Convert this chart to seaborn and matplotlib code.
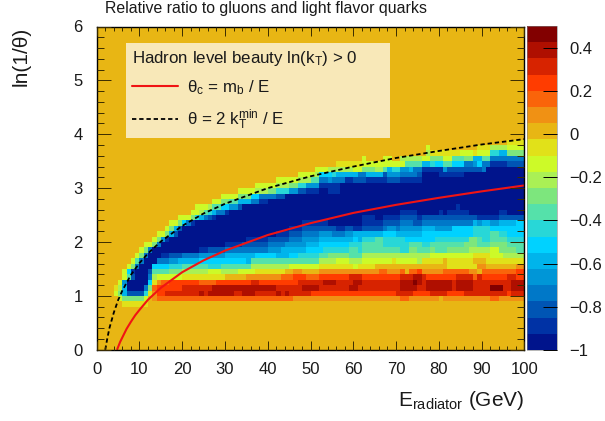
import numpy as np
import matplotlib
matplotlib.use("Agg")
import matplotlib.pyplot as plt
import seaborn as sns
from matplotlib.colors import ListedColormap
from matplotlib.lines import Line2D
from matplotlib.ticker import FixedLocator

# colour bands of the z scale, bottom to top
band_colors = ["#00148c", "#0032a5", "#0055b4", "#0078c8", "#0096d7", "#00b4eb", "#00d2ff",
               "#28d7d7", "#55e1aa", "#7de67d", "#aaf055", "#cdfa28", "#e1e119", "#e8b614",
               "#f09114", "#fa640a", "#ff3c00", "#d72300", "#af0f00", "#820000"]

# each row: pairs (first 1-GeV bin, band index); cells before the first pair are band 13
r08 = [6,12, 12,13]
r09 = [5,11, 6,9, 11,11, 12,13, 13,14, 14,15, 46,14, 71,15, 73,14, 80,13, 81,14, 92,15, 94,14]
r10 = [4,11, 5,9, 6,5, 7,2, 11,7, 12,12, 13,14, 14,16, 16,17, 24,18, 25,17, 26,18, 32,17, 34,18, 37,17, 42,18, 43,17, 44,18, 45,17, 50,16, 70,17, 74,16, 78,17, 82,16, 86,17, 96,16, 97,17]
r11 = [4,12, 5,10, 6,5, 7,0, 11,3, 12,9, 13,15, 14,16, 20,17, 27,18, 42,17, 48,18, 52,17, 59,18, 61,17, 71,18, 75,17, 77,18, 83,17, 84,18, 88,17, 92,19, 95,17, 97,18]
r12 = [5,11, 6,4, 7,0, 12,6, 13,12, 14,14, 15,15, 17,16, 24,15, 28,16, 36,17, 38,16, 47,17, 53,18, 56,17, 60,18, 62,17, 71,18, 74,19, 75,18, 76,17, 77,18, 83,17, 84,18, 88,17, 97,18]
r13 = [6,11, 7,8, 8,2, 9,0, 12,3, 13,10, 14,11, 20,12, 30,13, 35,14, 43,15, 46,16, 49,15, 52,16, 59,17, 62,16, 71,17, 74,18, 76,17, 77,16, 84,17, 88,15, 89,17, 90,16, 96,17, 98,16]
r14 = [6,11, 7,6, 8,1, 9,0, 12,2, 13,8, 17,9, 20,10, 26,11, 29,10, 33,11, 37,12, 44,13, 46,14, 48,13, 52,14, 66,15, 68,14, 71,15, 72,13, 73,15, 75,16, 76,14, 81,15, 87,14, 89,13, 90,15, 98,16]
r15 = [7,11, 8,9, 9,3, 10,0, 13,6, 17,7, 20,8, 26,7, 29,8, 36,10, 45,11, 52,12, 60,11, 61,12, 65,13, 82,12, 89,14, 91,13, 98,14]
r16 = [8,11, 9,8, 10,3, 11,0, 14,3, 17,4, 19,5, 24,6, 35,5, 36,8, 52,10, 56,11, 59,10, 62,11, 69,12, 70,11, 75,10, 76,12, 81,13, 82,12, 88,13, 91,12]
r17 = [9,11, 10,9, 11,3, 12,0, 15,1, 17,2, 20,3, 24,4, 30,5, 37,6, 42,5, 45,6, 47,7, 52,8, 54,9, 59,8, 62,10, 78,11, 88,12, 92,11, 95,10]
r18 = [10,11, 11,9, 12,3, 13,0, 24,1, 26,2, 30,3, 40,4, 43,5, 49,6, 53,7, 59,8, 61,7, 62,8, 71,7, 73,9, 75,8, 78,9, 79,8, 82,9, 87,10, 92,11, 94,9, 98,8]
r19 = [11,11, 13,9, 14,3, 15,0, 30,1, 34,2, 40,3, 44,4, 49,5, 52,6, 59,7, 62,8, 67,7, 73,8, 76,7, 78,8, 86,9, 89,8, 92,9, 96,8]
r20 = [13,11, 14,9, 15,4, 16,1, 17,0, 35,1, 40,2, 45,3, 48,4, 52,5, 60,6, 61,5, 62,7, 65,8, 67,7, 72,6, 79,7, 87,9, 89,8, 90,7, 92,8, 96,7]
r21 = [14,11, 16,9, 17,5, 18,2, 19,0, 42,1, 45,2, 48,3, 52,4, 55,3, 58,4, 60,5, 67,6, 70,5, 76,6, 88,7, 92,8, 94,7, 96,6]
r22 = [16,11, 17,9, 18,5, 19,2, 20,0, 45,1, 48,2, 56,1, 58,2, 60,1, 62,2, 67,3, 68,4, 70,3, 71,4, 76,5, 79,4, 83,6, 88,7, 92,6]
r23 = [17,11, 19,9, 20,6, 21,3, 22,1, 23,0, 48,1, 54,0, 62,1, 67,2, 71,3, 74,2, 76,3, 88,5, 89,4, 90,5, 92,4, 94,5, 98,6]
r24 = [19,11, 22,9, 23,7, 24,5, 25,3, 26,2, 27,1, 28,0, 62,1, 65,0, 67,1, 71,2, 75,1, 76,2, 89,1, 94,2]
r25 = [22,11, 24,10, 25,8, 26,7, 27,5, 28,3, 30,1, 31,0, 71,1, 75,0, 80,1, 81,0, 82,1, 87,0, 94,1, 96,0]
r26 = [23,11, 26,10, 27,8, 29,6, 31,4, 33,2, 34,0, 84,1, 85,0]
r27 = [27,11, 29,9, 31,8, 33,5, 36,3, 38,1, 40,0]
r28 = [29,11, 33,9, 36,6, 38,3, 42,2, 44,0]
r29 = [33,11, 37,10, 40,9, 42,7, 45,4, 47,2, 49,1, 52,0, 54,1, 57,0]
r30 = [37,11, 42,10, 45,9, 47,7, 49,4, 52,1, 57,0]
r31 = [42,11, 47,10, 50,8, 52,3, 54,4, 55,3, 58,1, 60,2, 63,1, 68,2, 71,1, 76,0]
r32 = [47,11, 51,10, 52,6, 55,7, 56,5, 61,3, 63,5, 67,2, 68,4, 71,3, 75,2, 76,0, 80,1, 86,0]
r33 = [51,11, 54,10, 60,11, 62,9, 65,10, 67,8, 68,5, 69,7, 71,4, 73,5, 74,3, 76,1, 81,4, 82,2, 90,3, 91,0]
r34 = [56,12, 62,11, 72,8, 76,5, 78,7, 79,6, 81,8, 83,6, 86,3, 88,4, 89,6, 90,3, 92,1, 96,2]
r35 = [62,11, 63,13, 67,11, 69,13, 71,10, 76,11, 78,9, 81,11, 83,8, 86,9, 88,5, 90,8, 92,3]
r36 = [77,10, 78,12, 85,11, 88,12, 89,11, 92,7, 94,5, 96,9]
r37 = [77,11, 78,13, 89,12, 92,10, 96,11]
r38 = [96,12]
rows = [r08, r09, r10, r11, r12, r13, r14, r15, r16, r17, r18, r19, r20, r21, r22, r23,
        r24, r25, r26, r27, r28, r29, r30, r31, r32, r33, r34, r35, r36, r37, r38]
first_row = 8

# curves
red_E = [4.75, 5, 5.5, 6, 7, 8, 9, 10, 12, 15, 20, 25, 30, 40, 50, 60, 70, 80, 90, 100]
red_y = [0, .05, .15, .23, .39, .52, .64, .74, .93, 1.15, 1.44, 1.66, 1.84, 2.13, 2.35, 2.54, 2.69, 2.82, 2.94, 3.05]
dash_E = [2, 2.5, 3, 4, 5, 6, 8, 10, 12, 15, 20, 25, 30, 40, 50, 60, 70, 80, 90, 100]
dash_y = [0, .22, .41, .69, .92, 1.1, 1.39, 1.61, 1.79, 2.01, 2.3, 2.53, 2.71, 3.0, 3.22, 3.4, 3.56, 3.69, 3.81, 3.91]

x_ticks = [0, 10, 20, 30, 40, 50, 60, 70, 80, 90, 100]
y_ticks = [0, 1, 2, 3, 4, 5, 6]
z_ticks = [-1, -.8, -.6, -.4, -.2, 0, .2, .4]
z_labels = ["\u22121", "\u22120.8", "\u22120.6", "\u22120.4", "\u22120.2", "0", "0.2", "0.4"]

sns.set_theme(style="white")
plt.rcParams["font.family"] = ["Liberation Sans", "DejaVu Sans"]
plt.rcParams["mathtext.fontset"] = "custom"
plt.rcParams["mathtext.rm"] = "Liberation Sans"
plt.rcParams["mathtext.default"] = "rm"

W, H = 605, 421
fig = plt.figure(figsize=(W / 100, H / 100), dpi=100)
L, R, T, B = 96.7, 524.3, 26.5, 349.8
ax = fig.add_axes([L / W, 1 - B / H, (R - L) / W, (B - T) / H])
cax = fig.add_axes([527.3 / W, 1 - 350 / H, 30 / W, 324 / H])

levels = np.full((60, 100), 13)
for n, pairs in enumerate(rows):
    starts, bands = pairs[::2], pairs[1::2]
    for s, e, b in zip(starts, starts[1:] + [100], bands):
        levels[first_row + n, s:e] = b
z = -1 + (levels + .5) * .075

sns.heatmap(z, ax=ax, cmap=ListedColormap(band_colors), vmin=-1, vmax=.5, cbar_ax=cax,
            xticklabels=False, yticklabels=False)
ax.set_xlim(0, 100)
ax.set_ylim(0, 60)
ax.set_axisbelow(False)
cax.set_axisbelow(False)

ax.plot(red_E, 10 * np.array(red_y), color="#f01414", lw=1.5, solid_capstyle="butt")
ax.plot(dash_E, 10 * np.array(dash_y), color="black", lw=1.3, dashes=(2.4, 1.6))

ink = "#1a1a1a"
tick_col = "#3a2c00"
ax.xaxis.set_major_locator(FixedLocator(x_ticks))
ax.xaxis.set_minor_locator(FixedLocator(np.arange(0, 101, 2)))
ax.yaxis.set_major_locator(FixedLocator([v * 10 for v in y_ticks]))
ax.yaxis.set_minor_locator(FixedLocator(np.arange(0, 61, 2)))
ax.set_xticklabels([str(v) for v in x_ticks], rotation=0)
ax.set_yticklabels([str(v) for v in y_ticks], rotation=0)
ax.tick_params(axis="x", which="major", direction="in", length=6.5, width=.7, top=True, bottom=True,
               labelsize=12, pad=8.5, color=tick_col, labelcolor=ink)
ax.tick_params(axis="x", which="minor", direction="in", length=3.2, width=.7, top=True, bottom=True, color=tick_col)
ax.tick_params(axis="y", which="major", direction="in", length=10, width=.7, left=True, right=True,
               labelsize=12, pad=10, color=tick_col, labelcolor=ink)
ax.tick_params(axis="y", which="minor", direction="in", length=5, width=.7, left=True, right=True, color=tick_col)
for s in ax.spines.values():
    s.set_visible(True)
    s.set_linewidth(1.0)
    s.set_color("black")

ax.set_xlabel("E$_{radiator}$ (GeV)", fontsize=15, color=ink, loc="right")
ax.xaxis.set_label_coords(1.0, -.12)
ax.set_ylabel("ln(1/\u03b8)", fontsize=15, color=ink, loc="top")
ax.yaxis.set_label_coords(-.155, 1.0)
ax.set_title("Relative ratio to gluons and light flavor quarks", loc="left", fontsize=11.4,
             color=ink, x=(105 - L) / (R - L), pad=10)

handles = [Line2D([], [], color="#f01414", lw=1.5),
           Line2D([], [], color="black", lw=1.3, dashes=(2.4, 1.6))]
leg = ax.legend(handles, ["\u03b8$_{c}$ = m$_{b}$ / E", "\u03b8 = 2 k$_{T}^{min}$ / E"],
                title="Hadron level beauty ln(k$_{T}$) > 0", alignment="left",
                bbox_to_anchor=((126 - L) / (R - L), (B - 136) / (B - T), (390 - 126) / (R - L), (136 - 43) / (B - T)),
                loc="upper left", mode="expand", borderaxespad=0, fontsize=12.2, title_fontsize=12.2,
                frameon=True, fancybox=False, facecolor="#f8e8b8", edgecolor="none", framealpha=1,
                handlelength=2.7, handletextpad=.55, labelspacing=.62, borderpad=.34)
for t in leg.get_texts() + [leg.get_title()]:
    t.set_color(ink)

cbar = ax.collections[0].colorbar
cbar.set_ticks(z_ticks)
cbar.set_ticklabels(z_labels)
cax.tick_params(axis="y", which="major", direction="in", length=10, width=.7, right=True, left=False,
                labelsize=12, pad=8.5, labelcolor=ink, color="black")
cbar.ax.minorticks_off()
cbar.outline.set_linewidth(.4)
cbar.outline.set_edgecolor("#808080")

fig.savefig("out.png", dpi=100)
